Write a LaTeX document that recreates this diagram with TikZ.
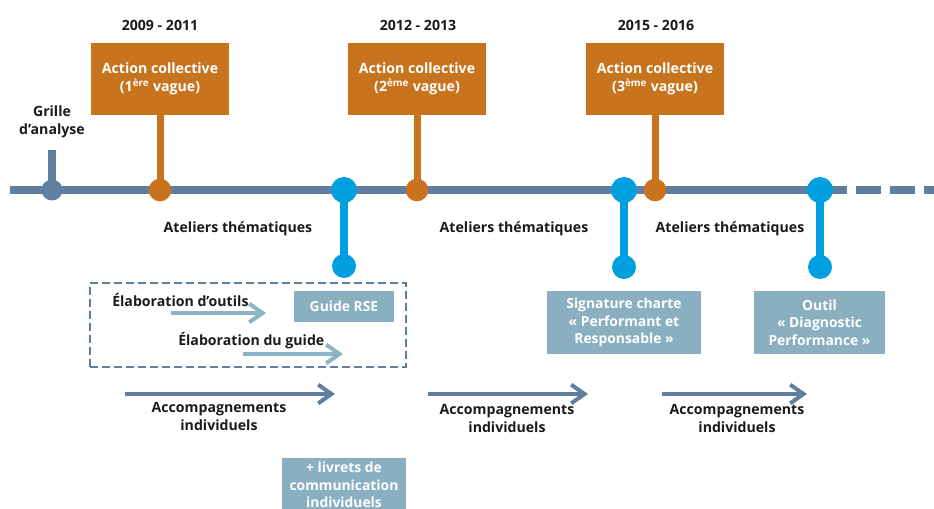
\documentclass[tikz,border=0pt]{standalone}
\usepackage{fontspec}
\setmainfont{Open Sans}
\usetikzlibrary{arrows.meta,backgrounds}
\definecolor{orng}{HTML}{C8741E}
\definecolor{slate}{HTML}{5F7EA0}
\definecolor{brightblue}{HTML}{009FDF}
\definecolor{boxblue}{HTML}{8AAFC0}
\definecolor{lightarrow}{HTML}{8CB4C8}
\definecolor{txt}{HTML}{1A1A1A}
\begin{document}
\begin{tikzpicture}[x=0.75pt,y=-0.75pt,
  font=\bfseries\fontsize{10.6}{13.5}\selectfont,
  lbl/.style={text=txt, align=center, inner sep=0pt},
  actbox/.style={fill=orng, text=white, align=center, inner sep=0pt,
    minimum width=103.5pt, minimum height=54pt, font=\bfseries\fontsize{10.6}{13.5}\selectfont},
  infobox/.style={fill=boxblue, text=white, align=center, inner sep=0pt,
    font=\bfseries\fontsize{10.4}{13}\selectfont},
  dotslate/.style={circle, fill=slate, minimum size=15.75pt, inner sep=0pt},
  dotorng/.style={circle, fill=orng, minimum size=17pt, inner sep=0pt},
  dotblue/.style={circle, fill=brightblue, minimum size=19.5pt, inner sep=0pt},
  dotbluesm/.style={circle, fill=brightblue, minimum size=18pt, inner sep=0pt},
  mainline/.style={slate, line width=6pt},
  ostem/.style={orng, line width=5.25pt},
  bstem/.style={brightblue, line width=6pt},
  sstem/.style={slate, line width=6pt},
  accarrow/.style={slate, line width=3pt, -{Straight Barb[length=10pt,width=14pt,line width=3pt]}},
  elarrow/.style={lightarrow, line width=3pt, -{Straight Barb[length=10pt,width=14pt,line width=3pt]}},
]
\useasboundingbox (0,0) rectangle (934,509);

% timeline coordinates
\coordinate (tlA) at (10,190);
\coordinate (tlB) at (847,190);
\coordinate (tlC) at (856,190);
\coordinate (tlD) at (940,190);

% dots on timeline
\node[dotslate] (g) at (52,190) {};
\coordinate (gtop) at (52,150);
\node[dotorng] (o1) at (160,190) {};
\node[dotorng] (o2) at (417,190) {};
\node[dotorng] (o3) at (655,190) {};
\node[dotblue] (b1) at (344,190) {};
\node[dotblue] (b2) at (624,190) {};
\node[dotblue] (b3) at (820,190) {};
\node[dotbluesm] (b1l) at (344,266) {};
\node[dotbluesm] (b2l) at (624,267) {};
\node[dotbluesm] (b3l) at (820,267) {};

% year labels and action boxes
\node[lbl] (y1) at (160,25) {2009 - 2011};
\node[lbl] (y2) at (418,25) {2012 - 2013};
\node[lbl] (y3) at (656,25) {2015 - 2016};
\node[actbox] (a1) at (160,79) {Action collective\\(1\textsuperscript{ère} vague)};
\node[actbox] (a2) at (417,79) {Action collective\\(2\textsuperscript{ème} vague)};
\node[actbox] (a3) at (655,79) {Action collective\\(3\textsuperscript{ème} vague)};

\node[lbl] (grille) at (52,122) {Grille\\d’analyse};

% ateliers
\node[lbl] (at1) at (238,229) {Ateliers thématiques};
\node[lbl] (at2) at (514,229) {Ateliers thématiques};
\node[lbl] (at3) at (730,229) {Ateliers thématiques};

% dashed box
\node[draw=slate, dash pattern=on 6pt off 3pt, line width=2pt, minimum width=237pt, minimum height=63pt, inner sep=0pt] (dbox) at (248,325) {};
\node[lbl, anchor=west] (elo) at (112,300) {Élaboration d’outils};
\node[lbl, anchor=west] (elg) at (178,341) {Élaboration du guide};
\coordinate (e1s) at (171,313);
\coordinate (e1e) at (266,313);
\coordinate (e2s) at (243,354);
\coordinate (e2e) at (343,354);
\draw[elarrow] (e1s) -- (e1e);
\draw[elarrow] (e2s) -- (e2e);

% info boxes
\node[infobox, minimum width=75pt, minimum height=23.25pt] (guide) at (344,306.5) {Guide RSE};
\node[infobox, minimum width=93pt, minimum height=40.5pt] (livrets) at (344,485) {+ livrets de\\communication\\individuels};
\node[infobox, minimum width=115.5pt, minimum height=47.25pt] (sign) at (624,322.5) {Signature charte\\«~Performant et\\Responsable~»};
\node[infobox, minimum width=98.25pt, minimum height=47.25pt] (outil) at (819.5,322.5) {Outil\\«~Diagnostic\\Performance~»};

% accompagnements
\coordinate (c1s) at (125,394);
\coordinate (c1e) at (335,394);
\coordinate (c2s) at (428,394);
\coordinate (c2e) at (588,394);
\coordinate (c3s) at (662,394);
\coordinate (c3e) at (807,394);
\draw[accarrow] (c1s) -- (c1e);
\draw[accarrow] (c2s) -- (c2e);
\draw[accarrow] (c3s) -- (c3e);
\node[lbl] (ac1) at (219,417) {Accompagnements\\individuels};
\node[lbl] (ac2) at (507,419) {Accompagnements\\individuels};
\node[lbl] (ac3) at (737,419) {Accompagnements\\individuels};

% background lines
\begin{scope}[on background layer]
  \draw[mainline] (tlA) -- (tlB);
  \draw[mainline, dash pattern=on 18.75pt off 6.75pt] (tlC) -- (tlD);
  \draw[sstem] (g.center) -- (gtop);
  \draw[ostem] (a1.south) -- (o1.center);
  \draw[ostem] (a2.south) -- (o2.center);
  \draw[ostem] (a3.south) -- (o3.center);
  \draw[bstem] (b1.center) -- (b1l.center);
  \draw[bstem] (b2.center) -- (b2l.center);
  \draw[bstem] (b3.center) -- (b3l.center);
\end{scope}
\end{tikzpicture}
\end{document}
